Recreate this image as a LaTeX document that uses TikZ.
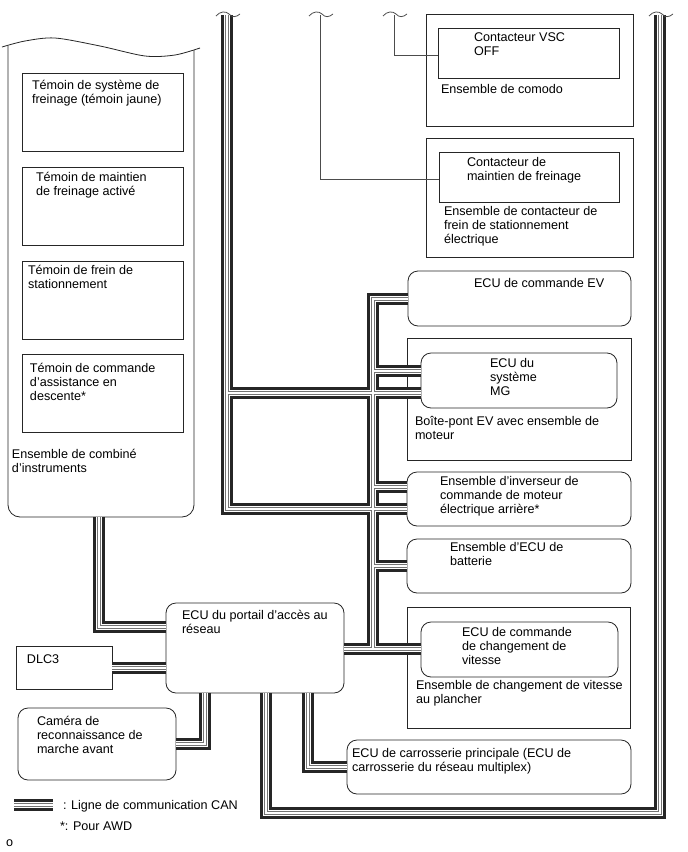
\documentclass[tikz,border=0pt]{standalone}
\usepackage{fontspec}
\setmainfont{Liberation Sans}
\usetikzlibrary{calc}
\newcommand\topwave[1]{\draw[wavy] ($(#1)+(-11,1)$) .. controls ($(#1)+(-7,-4)$) and ($(#1)+(-1,-4)$) .. ($(#1)+(2,-1)$) .. controls ($(#1)+(5,2.5)$) and ($(#1)+(9,2.5)$) .. ($(#1)+(13,-1)$);}
\begin{document}
\begin{tikzpicture}[x=1pt,y=-1pt,
  box/.style={draw=black!85, line width=0.8pt, anchor=north west, inner sep=0pt, outer sep=0pt},
  rbox/.style={box, rounded corners=10pt},
  outline/.style={draw=black!85, line width=0.8pt},
  lab/.style={anchor=north west, inner sep=0pt, outer sep=0pt, align=left, font=\fontsize{12.6}{14}\selectfont, execute at begin node={\rule{0pt}{10pt}}},
  wire/.style={draw=black!70, line width=0.8pt},
  wavy/.style={draw=black!70, line width=0.8pt},
]
\fill[white] (0,0) rectangle (688,852);
\useasboundingbox (0,0) rectangle (688,852);

% combination meter outline
\draw[outline, rounded corners=12pt] (8,45.5) -- (8,517) -- (194,517) -- (194,50);
\draw[outline] plot[smooth] coordinates {(2,47) (25,41) (55,38) (100,46) (145,56) (175,55) (200,48)};
\coordinate (mtb) at (99,517);

% lamps
\node[box, minimum width=161pt, minimum height=78pt] (w1) at (22,73) {};
\node[box, minimum width=161pt, minimum height=78pt] (w2) at (22,167) {};
\node[box, minimum width=161pt, minimum height=78pt] (w3) at (22,261) {};
\node[box, minimum width=161pt, minimum height=78pt] (w4) at (22,354) {};

% top right switches
\node[box, minimum width=207pt, minimum height=112pt] (como) at (426,14) {};
\node[box, minimum width=181pt, minimum height=50pt] (vsc) at (438,28) {};
\node[box, minimum width=207pt, minimum height=119pt] (park) at (426,138) {};
\node[box, minimum width=180pt, minimum height=50pt] (parkin) at (439,152) {};

% ECUs right
\node[rbox, minimum width=223pt, minimum height=55pt] (ev) at (408,271) {};
\node[box, minimum width=224pt, minimum height=122pt] (bpont) at (407,338) {};
\node[rbox, minimum width=196pt, minimum height=55pt] (mg) at (421,353) {};
\node[rbox, minimum width=224pt, minimum height=54pt] (inv) at (407,472) {};
\node[rbox, minimum width=224pt, minimum height=54pt] (bat) at (407,539) {};
\node[box, minimum width=223pt, minimum height=121pt] (shift) at (407,607) {};
\node[rbox, minimum width=197pt, minimum height=55pt] (shecu) at (421,622) {};
\node[rbox, minimum width=284pt, minimum height=54pt] (carr) at (347,740) {};

% left bottom
\node[rbox, minimum width=178pt, minimum height=90pt] (gw) at (166,603) {};
\node[box, minimum width=96pt, minimum height=43pt] (dlc) at (16,646) {};
\node[rbox, minimum width=158pt, minimum height=72pt] (cam) at (18,708) {};

% bus coordinates
\coordinate (mgA) at ($(mg.north west)+(0,18)$);
\coordinate (mgB) at ($(mg.north west)+(0,40)$);
\coordinate (invA) at ($(inv.north west)+(0,15)$);
\coordinate (invB) at ($(inv.north west)+(0,37)$);
\coordinate (gwA) at ($(gw.north west)+(0,24)$);
\coordinate (gwC) at ($(gw.south west)+(39,0)$);
\coordinate (gwD) at ($(gw.south west)+(141.5,0)$);
\coordinate (gwE) at ($(gw.south west)+(100,0)$);
\coordinate (gwF) at ($(gw.north east)+(0,46)$);
\coordinate (tkb) at (373,649);
\coordinate (rbot) at (660,813);
\coordinate (rtop) at (660,15);
\coordinate (ltop) at (227,15);
\coordinate (lg1) at (14,805);
\coordinate (lg2) at (53,805);

\def\buspaths{(mtb) |- (gwA)
 (dlc.east) -- (dlc.east -| gw.west)
 (gwC) |- (cam.east)
 (gwD) |- (carr.west)
 (gwE) |- (rbot) -- (rtop)
 (gwF) -- (gwF -| shecu.west)
 (tkb) |- (ev.west)
 (tkb |- mgA) -- (mgA)
 (tkb |- invA) -- (invA)
 (tkb |- bat.west) -- (bat.west)
 (ltop) |- (invB)
 (ltop |- mgB) -- (mgB)
 (lg1) -- (lg2)}
\foreach \w/\c in {12/black!85, 6/white, 4/black!55, 2/white}{
  \draw[line width=\w pt, draw=\c, line join=miter] \buspaths;
}

% thin wires
\coordinate (wt1) at (320,15);
\coordinate (wt2) at (394,15);
\draw[wire] (wt1) |- ($(parkin.north west)+(0,27)$);
\draw[wire] (wt2) |- ($(vsc.north west)+(0,27)$);

\topwave{ltop}
\topwave{rtop}
\topwave{wt1}
\topwave{wt2}

% labels
\node[lab] (t1) at (32,80.5) {Témoin de système de\\freinage (témoin jaune)};
\node[lab] (t2) at (36,172.5) {Témoin de maintien\\de freinage activé};
\node[lab] (t3) at (28,265.5) {Témoin de frein de\\stationnement};
\node[lab] (t4) at (30,363.5) {Témoin de commande\\d'assistance en\\descente*};
\node[lab] (t5) at (12,449.5) {Ensemble de combiné\\d'instruments};
\node[lab] (t6) at (474,32.5) {Contacteur VSC\\OFF};
\node[lab] (t7) at (441,83) {Ensemble de comodo};
\node[lab] (t8) at (467,157.5) {Contacteur de\\maintien de freinage};
\node[lab] (t9) at (444,206) {Ensemble de contacteur de\\frein de stationnement\\électrique};
\node[lab] (t10) at (474,277.5) {ECU de commande EV};
\node[lab] (t11) at (490,358.5) {ECU du\\système\\MG};
\node[lab] (t12) at (415,416.5) {Boîte-pont EV avec ensemble de\\moteur};
\node[lab] (t13) at (440,476.5) {Ensemble d'inverseur de\\commande de moteur\\électrique arrière*};
\node[lab] (t14) at (450,542.5) {Ensemble d'ECU de\\batterie};
\node[lab] (t15) at (182,610.5) {ECU du portail d'accès au\\réseau};
\node[lab] (t16) at (27,653.5) {DLC3};
\node[lab] (t17) at (462,627) {ECU de commande\\de changement de\\vitesse};
\node[lab] (t18) at (416,680.5) {Ensemble de changement de vitesse\\au plancher};
\node[lab] (t19) at (37,716) {Caméra de\\reconnaissance de\\marche avant};
\node[lab] (t20) at (352,748) {ECU de carrosserie principale (ECU de\\carrosserie du réseau multiplex)};
\node[lab] (t21) at (63,799) {: Ligne de communication CAN};
\node[lab] (t22) at (60,820.5) {*: Pour AWD};
\node[lab] (t23) at (6,836) {o};
\end{tikzpicture}
\end{document}
